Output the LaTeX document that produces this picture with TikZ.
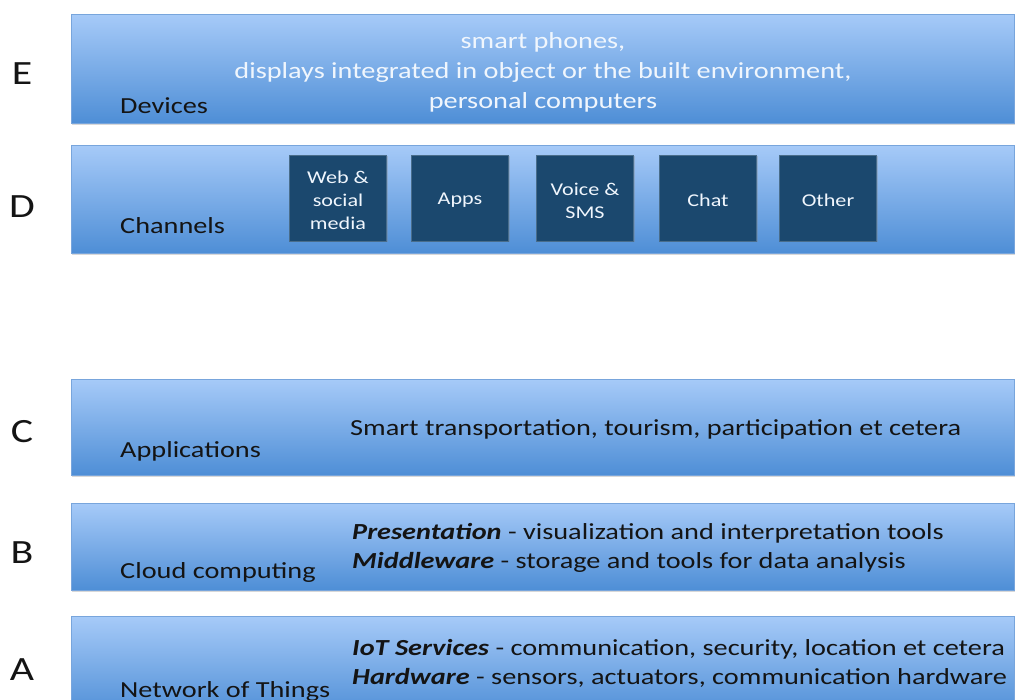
\documentclass[tikz,border=0pt]{standalone}
\usepackage{fontspec}
\setmainfont[FakeStretch=1.23]{Carlito}
\usetikzlibrary{shadows}
\definecolor{bartop}{RGB}{166,202,248}
\definecolor{barbot}{RGB}{78,142,214}
\definecolor{barline}{RGB}{120,165,220}
\definecolor{chan}{RGB}{27,72,110}
\definecolor{txt}{RGB}{20,20,20}
\definecolor{wtxt}{RGB}{240,246,253}
\begin{document}
\begin{tikzpicture}[x=1pt,y=-1pt,
  bar/.style={rectangle, draw=barline, line width=0.5pt, top color=bartop, bottom color=barbot,
    anchor=north west, inner sep=0pt, minimum width=943pt,
    drop shadow={opacity=0.3, shadow xshift=1pt, shadow yshift=-2pt}},
  chanbox/.style={rectangle, fill=chan, draw=chan!80!white, line width=0.5pt, minimum width=97pt, minimum height=86pt,
    inner sep=0pt, drop shadow={opacity=0.3, shadow xshift=1pt, shadow yshift=-1.5pt},
    label={[chantext]center:{#1}}},
  chantext/.style={text=wtxt, align=center, inner sep=0pt, yshift=-2.5pt, font=\fontsize{18}{23}\selectfont},
  letter/.style={text=txt, font=\fontsize{34}{40}\selectfont, inner sep=0pt},
  bartitle/.style={text=txt, anchor=west, inner sep=0pt, font=\fontsize{23}{28}\selectfont},
  bartext/.style={text=txt, anchor=west, inner sep=0pt, align=left, font=\fontsize{23}{29}\selectfont},
]
\useasboundingbox (0,0) rectangle (1015,700);
\clip (0,0) rectangle (1015,700);
\fill[white] (0,0) rectangle (1015,700);

% bars
\node[bar, minimum height=109pt] (barE) at (71,14) {};
\node[bar, minimum height=108pt] (barD) at (71,145) {};
\node[bar, minimum height=96pt] (barC) at (71,379) {};
\node[bar, minimum height=87pt] (barB) at (71,503) {};
\node[bar, minimum height=100pt] (barA) at (71,616) {};

% letters
\node[letter] (lE) at (22,74) {E};
\node[letter] (lD) at (22,207) {D};
\node[letter] (lC) at (22,432) {C};
\node[letter] (lB) at (22,553) {B};
\node[letter] (lA) at (22,670) {A};

% bar titles
\node[bartitle] (tE) at (120,106) {Devices};
\node[bartitle] (tD) at (120,226) {Channels};
\node[bartitle] (tC) at (120,451) {Applications};
\node[bartitle] (tB) at (120,572) {Cloud computing};
\node[bartitle] (tA) at (120,691) {Network of Things};

% E content
\node[text=wtxt, align=center, inner sep=0pt, font=\fontsize{23}{30}\selectfont] (eText) at (543,72)
  {smart phones,\\ displays integrated in object or the built environment,\\ personal computers};

% D channels
\node[chanbox={Web \&\\ social\\ media}] (web) at (338,198) {};
\node[chanbox={Apps}] (apps) at (460,198) {};
\node[chanbox={Voice \&\\ SMS}] (voice) at (585,198) {};
\node[chanbox={Chat}] (chat) at (708,198) {};
\node[chanbox={Other}] (other) at (828,198) {};

% C content
\node[bartext] (cText) at (350,429) {Smart transportation, tourism, participation et cetera};

% B content
\node[bartext] (bText) at (352,547.5)
  {\textbf{\textit{Presentation}} - visualization and interpretation tools\\
   \textbf{\textit{Middleware}} - storage and tools for data analysis};

% A content
\node[bartext] (aText) at (352,663.5)
  {\textbf{\textit{IoT Services}} - communication, security, location et cetera\\
   \textbf{\textit{Hardware}} - sensors, actuators, communication hardware};
\end{tikzpicture}
\end{document}
